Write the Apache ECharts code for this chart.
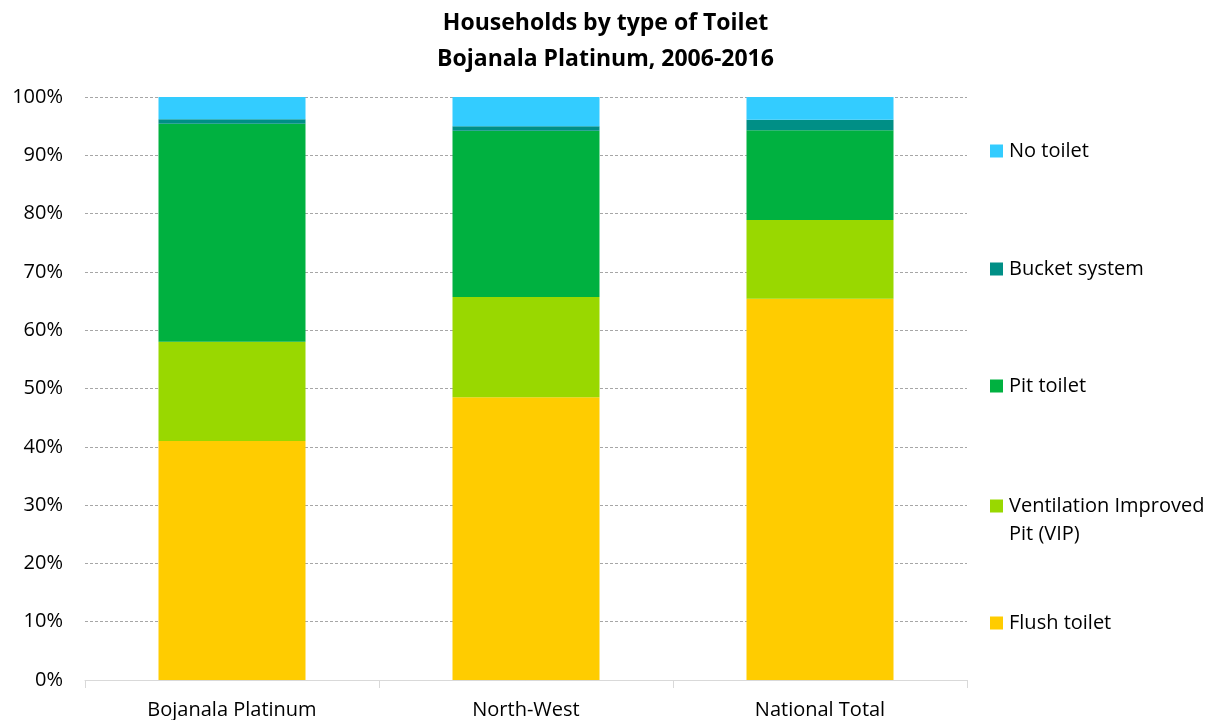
<!DOCTYPE html>
<html><head><meta charset="utf-8">
<script src="https://cdn.jsdelivr.net/npm/echarts@6/dist/echarts.min.js"></script>
<style>html,body{margin:0;padding:0;background:#fff}#c{width:1211px;height:720px}</style>
</head><body><div id="c"></div>
<script>
var categories = ['Bojanala Platinum', 'North-West', 'National Total'];
var flushToilet = [41.0, 48.5, 65.4];
var vip = [17.0, 17.2, 13.5];
var pitToilet = [37.4, 28.5, 15.4];
var bucketSystem = [0.8, 0.8, 1.8];
var noToilet = [3.8, 5.0, 3.9];
var yTicks = [0, 10, 20, 30, 40, 50, 60, 70, 80, 90, 100];

var FONT = 'Open Sans';
var seriesDefs = [
  {name: 'Flush toilet', data: flushToilet, color: '#ffcc00'},
  {name: 'Ventilation Improved Pit (VIP)', data: vip, color: '#99d800'},
  {name: 'Pit toilet', data: pitToilet, color: '#00b140'},
  {name: 'Bucket system', data: bucketSystem, color: '#008f86'},
  {name: 'No toilet', data: noToilet, color: '#33ccff'}
];
var legendTops = {'No toilet': 151, 'Bucket system': 269, 'Pit toilet': 386, 'Ventilation Improved Pit (VIP)': 506, 'Flush toilet': 623};
var legends = seriesDefs.map(function (s) {
  var two = s.name.indexOf('VIP') >= 0;
  return {
    data: [s.name], left: 990, top: legendTops[s.name] - (two ? 42 : 14),
    padding: 0,
    itemWidth: 13, itemHeight: 13, icon: 'rect', itemGap: 6,
    formatter: function (n) { return n === 'Ventilation Improved Pit (VIP)' ? ' \nVentilation Improved\nPit (VIP)' : n; },
    textStyle: {fontFamily: FONT, fontSize: 20, color: '#000', lineHeight: 28, padding: [0,0,0,1]},
    selectedMode: false
  };
});

var chart = echarts.init(document.getElementById('c'), null, {renderer: 'canvas'});
chart.setOption({
  animation: false,
  title: {
    text: 'Households by type of Toilet\nBojanala Platinum, 2006-2016',
    left: 'center', top: 0,
    textStyle: {fontFamily: FONT, fontSize: 23, fontWeight: 'bold', color: '#000', lineHeight: 36}
  },
  legend: legends,
  grid: {left: 85, right: 244, top: 97, bottom: 40},
  xAxis: {
    type: 'category', data: categories,
    axisLine: {lineStyle: {color: '#d9d9d9'}},
    axisTick: {show: true, length: 8, lineStyle: {color: '#d9d9d9'}},
    axisLabel: {fontFamily: FONT, fontSize: 20, color: '#000', margin: 20}
  },
  yAxis: {
    type: 'value', min: 0, max: 100, interval: 10,
    axisLine: {show: false}, axisTick: {show: false},
    axisLabel: {fontFamily: FONT, fontSize: 20, color: '#000', margin: 22,
      formatter: function (v) { return yTicks.indexOf(v) >= 0 ? v + '%' : ''; }},
    splitLine: {lineStyle: {color: '#a6a6a6', type: [3, 2]}}
  },
  series: seriesDefs.map(function (s) {
    return {name: s.name, type: 'bar', stack: 'total', data: s.data, barWidth: '50%',
      itemStyle: {color: s.color}};
  })
});
</script></body></html>
